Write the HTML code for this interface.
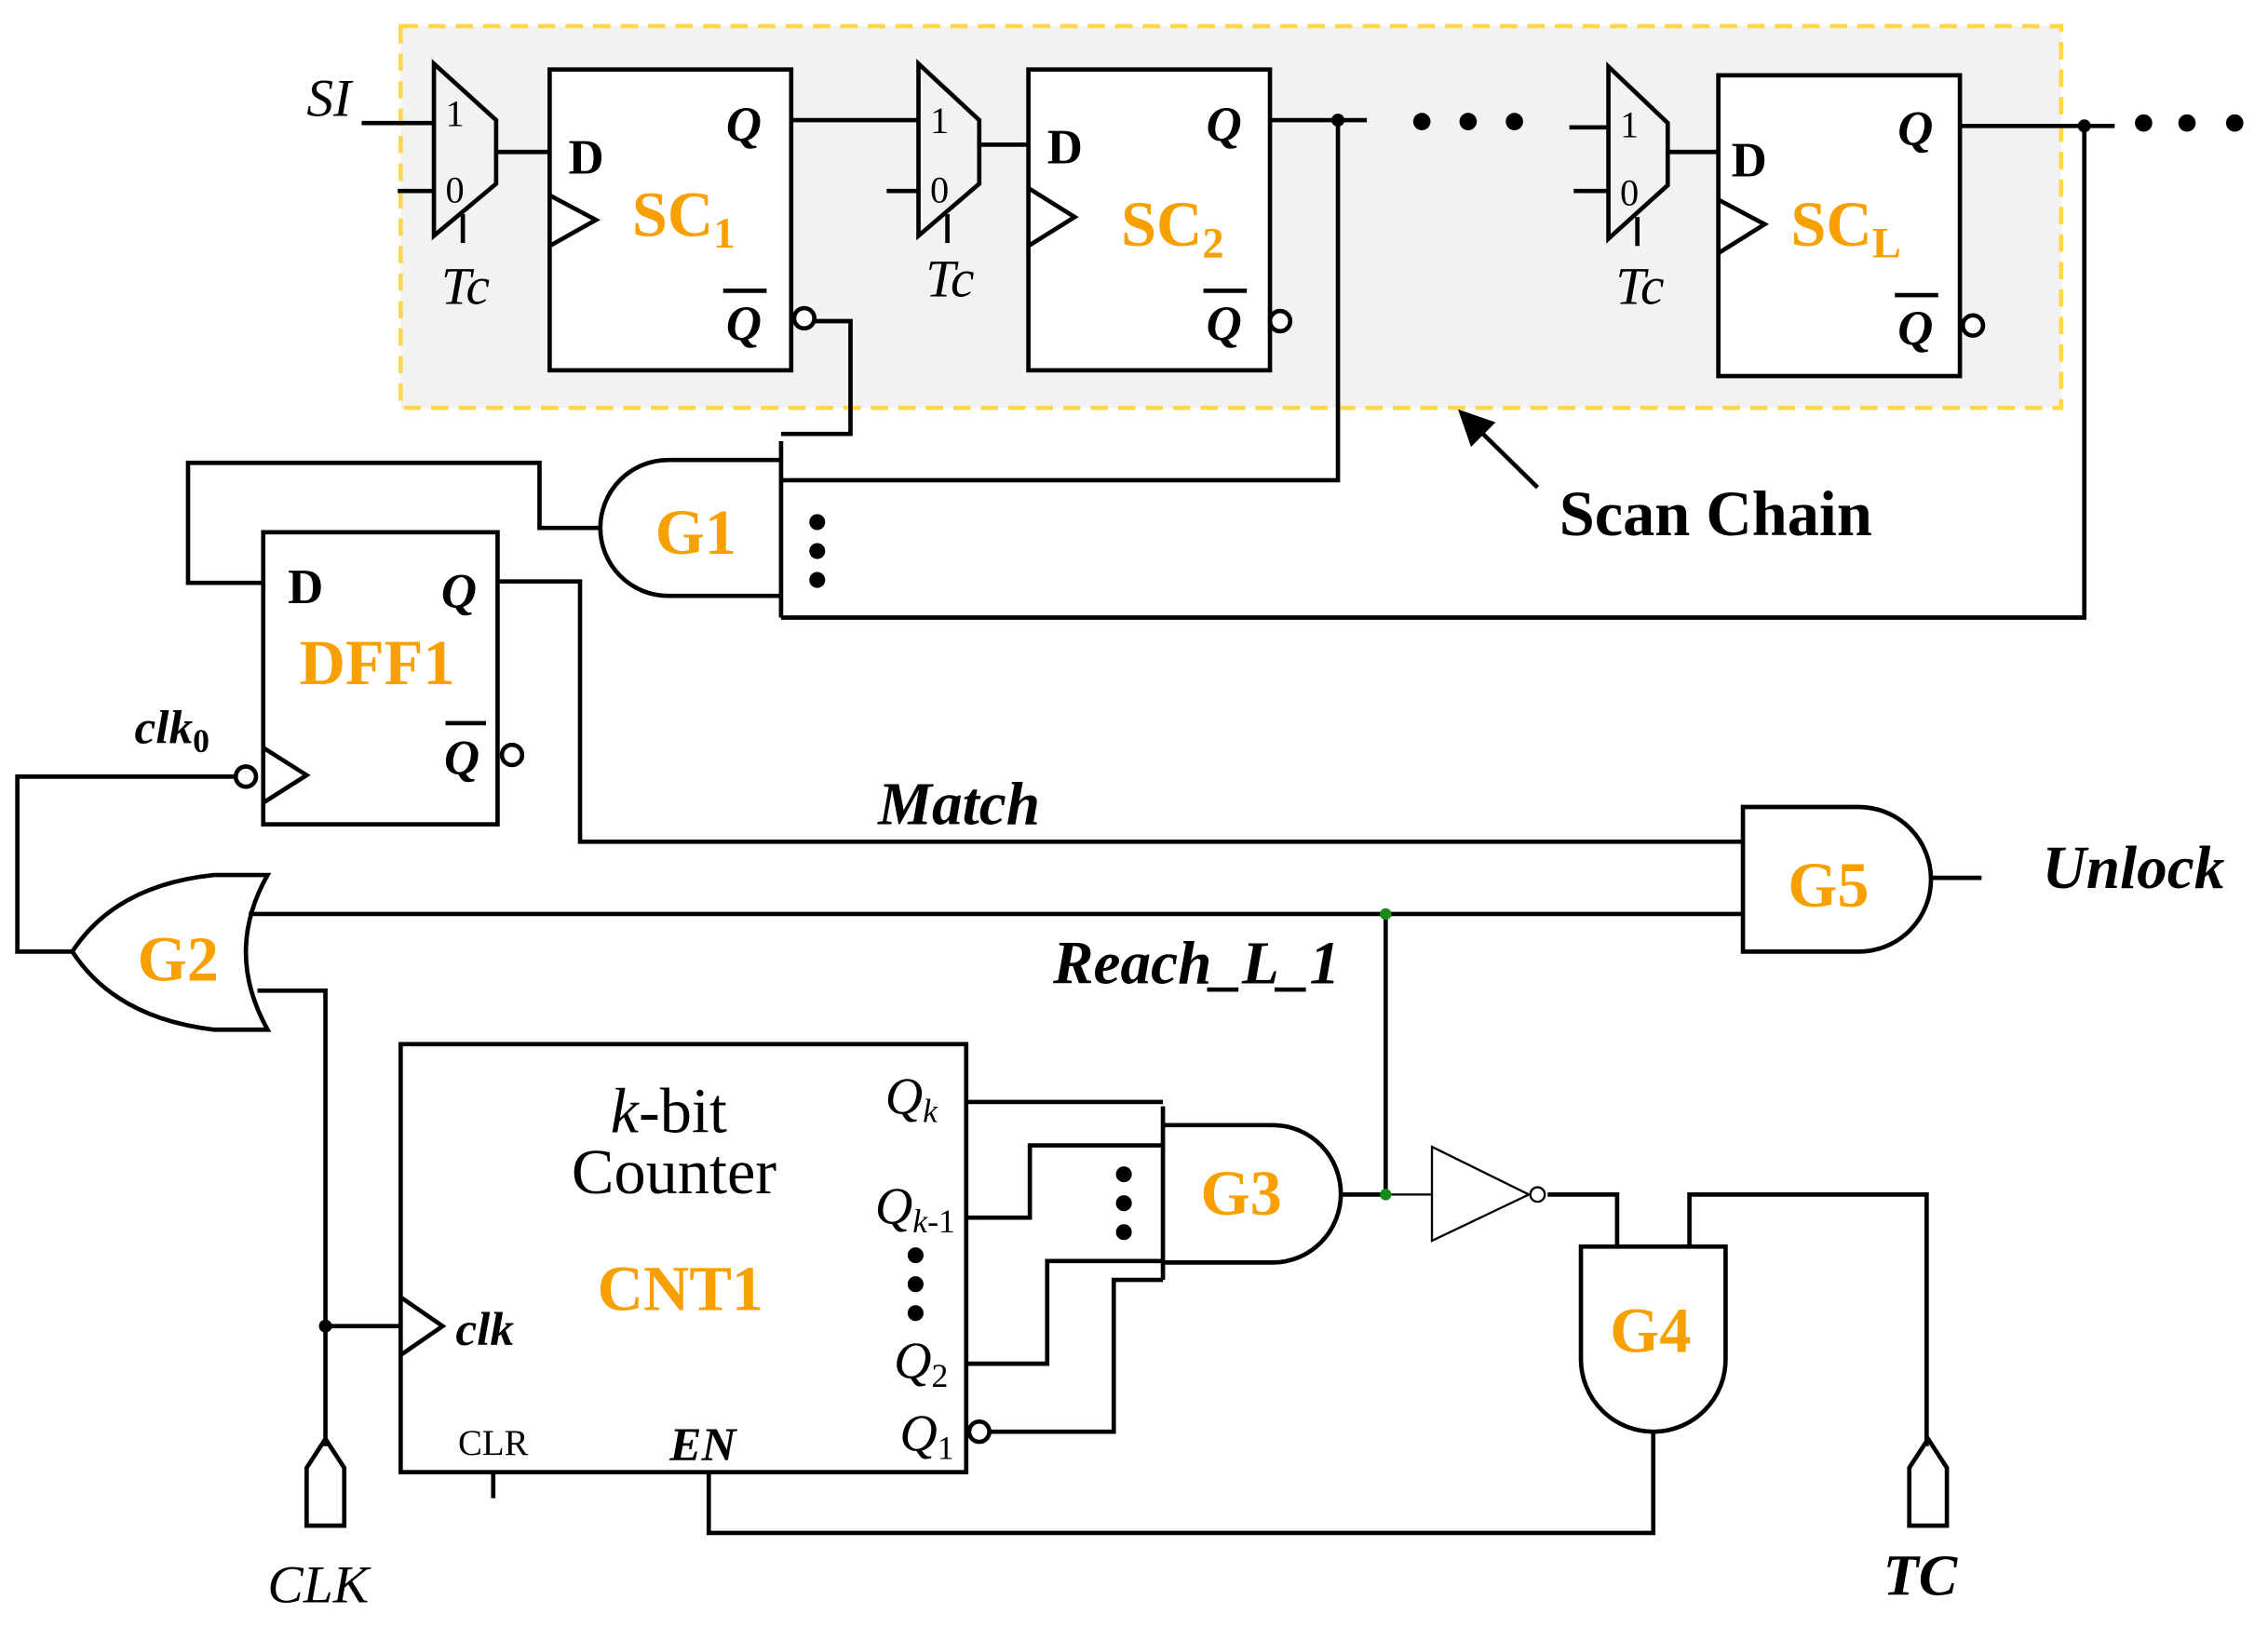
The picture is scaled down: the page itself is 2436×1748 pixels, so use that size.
<!DOCTYPE html>
<html><head><meta charset="utf-8"><style>html,body{margin:0;padding:0;background:#fff}svg{display:block}</style></head>
<body>
<svg width="2436" height="1748" viewBox="0 0 1568 1125" xmlns="http://www.w3.org/2000/svg" font-family="Liberation Serif, serif">
<rect x="277" y="18" width="1148" height="264" fill="#f2f2f2" stroke="#ffd84a" stroke-width="3" stroke-dasharray="12,7"/>
<g fill="none" stroke="#000" stroke-width="3">
<polygon points="300,44 343,83 343,127 300,163"/>
<path d="M250,85H300 M275,132H300 M320,148V168 M343,105H380"/>
<rect x="380" y="48" width="167" height="208" fill="#fff"/>
<path d="M380,135L412,152L380,170"/>
<circle cx="556" cy="220" r="7" fill="#fff"/>
<path d="M547,83H635"/>
<polygon points="635,44 677,83 677,127 635,163"/>
<path d="M613,132H635 M655,148V168 M677,100H711"/>
<rect x="711" y="48" width="167" height="208" fill="#fff"/>
<path d="M711,130L743,150L711,170"/>
<circle cx="885" cy="222" r="7" fill="#fff"/>
<path d="M878,83H945 M925,83V332H540"/>
<polygon points="1112,46 1153,85 1153,128 1112,165"/>
<path d="M1085,88H1112 M1088,132H1112 M1132,150V170 M1153,105H1188"/>
<rect x="1188" y="52" width="167" height="208" fill="#fff"/>
<path d="M1188,138L1220,155L1188,175"/>
<circle cx="1364" cy="225" r="7" fill="#fff"/>
<path d="M1355,87H1462 M1441,87V427H540 M540,305V427"/>
<path d="M563,222H588V300H540"/>
<path d="M540,318H462A47,47 0 0 0 462,412H540"/>
<path d="M415,365H373V320H130V403H182"/>
<rect x="182" y="368" width="162" height="202"/>
<path d="M182,517L212,536L182,555"/>
<circle cx="170" cy="537" r="7"/>
<circle cx="354" cy="522" r="7"/>
<path d="M344,402H401V582H1205"/>
<path d="M1205,558H1285A50,50 0 0 1 1285,658H1205Z"/>
<path d="M1335,607H1370"/>
<path d="M185,605H148Q80,612 50,658Q80,704 148,712H185Q155,658 185,605Z"/>
<path d="M50,658H12V537H163"/>
<path d="M172,632H1205"/>
<path d="M178,685H225V1000 M225,917H277"/>
<path d="M958,632V826"/>
<rect x="277" y="722" width="391" height="296"/>
<path d="M277,897L306,917L277,937"/>
<path d="M341,1018V1036"/>
<circle cx="677" cy="990" r="7"/>
<path d="M668,762H804 M668,842H712V792H804 M668,943H724V872H804 M684,990H770V885H804 M804,765V885"/>
<path d="M804,778H880A47,47.5 0 0 1 880,873H804"/>
<path d="M928,826H958"/>
<path d="M490,1018V1060H1143V990"/>
<path d="M1093,862H1193V940A50,50 0 0 1 1093,940Z"/>
<path d="M1070,826H1118V862 M1168,862V826H1332V1000"/>
<path d="M212,1055V1015L225,995L238,1015V1055Z"/>
<path d="M1320,1055V1015L1333,995L1346,1015V1055Z"/>
</g>
<g fill="none" stroke="#000" stroke-width="1.5">
<path d="M958,826H990"/>
<polygon points="990,793 1057,826 990,858"/>
<circle cx="1063" cy="826" r="5"/>
</g>
<g fill="#000">
<circle cx="925" cy="83" r="4.5"/><circle cx="1441" cy="87" r="4.5"/><circle cx="225" cy="917" r="4.5"/>
<circle cx="983" cy="84" r="6"/><circle cx="1015" cy="84" r="6"/><circle cx="1047" cy="84" r="6"/>
<circle cx="1482" cy="85" r="6"/><circle cx="1512" cy="85" r="6"/><circle cx="1545" cy="85" r="6"/>
<circle cx="565" cy="361" r="5.5"/><circle cx="565" cy="381" r="5.5"/><circle cx="565" cy="401" r="5.5"/>
<circle cx="777" cy="812" r="5.5"/><circle cx="777" cy="832" r="5.5"/><circle cx="777" cy="852" r="5.5"/>
<circle cx="633" cy="868" r="5.5"/><circle cx="633" cy="888" r="5.5"/><circle cx="633" cy="908" r="5.5"/>
<path d="M1063,337L1010,285" stroke="#000" stroke-width="3"/>
<polygon points="1008,283 1034,292 1017,309"/>
</g>
<circle cx="958" cy="632" r="4" fill="#1a8a1a"/><circle cx="958" cy="826" r="4" fill="#1a8a1a"/>
<g font-size="37" font-style="italic">
<text x="212" y="80">SI</text>
<text x="305" y="210">Tc</text><text x="640" y="205">Tc</text><text x="1117" y="210">Tc</text>
<text x="185" y="1108">CLK</text>
<text x="612" y="770" font-size="36">Q<tspan font-size="23" dy="6">k</tspan></text>
<text x="605" y="846" font-size="36">Q<tspan font-size="23" dy="6">k</tspan><tspan font-size="23" font-style="normal">-1</tspan></text>
<text x="618" y="953" font-size="36">Q<tspan font-size="23" dy="6" font-style="normal">2</tspan></text>
<text x="622" y="1003" font-size="36">Q<tspan font-size="23" dy="6" font-style="normal">1</tspan></text>
<text x="422" y="783" font-size="44">k<tspan font-style="normal">-bit</tspan></text>
</g>
<text x="466" y="825" font-size="44" text-anchor="middle">Counter</text>
<text x="341" y="1006" font-size="25" text-anchor="middle">CLR</text>
<g font-size="26">
<text x="308" y="87">1</text><text x="308" y="140">0</text>
<text x="643" y="92">1</text><text x="643" y="140">0</text>
<text x="1120" y="95">1</text><text x="1120" y="142">0</text>
</g>
<g font-weight="bold" font-size="34">
<text x="393" y="120">D</text><text x="724" y="113">D</text><text x="1197" y="122">D</text><text x="199" y="417">D</text>
</g>
<g font-weight="bold" font-style="italic" font-size="34">
<text x="502" y="97">Q</text><text x="502" y="235">Q</text>
<text x="834" y="97">Q</text><text x="834" y="235">Q</text>
<text x="1312" y="100">Q</text><text x="1312" y="238">Q</text>
<text x="305" y="420">Q</text><text x="307" y="535">Q</text>
<text x="607" y="570" font-size="42">Match</text>
<text x="1412" y="614" font-size="42">Unlock</text>
<text x="728" y="680" font-size="42">Reach_L_1</text>
<text x="315" y="930" font-size="33">clk</text>
<text x="463" y="1010" font-size="33">EN</text>
<text x="93" y="514" font-size="33">clk<tspan font-size="23" dy="6" font-style="normal">0</tspan></text>
<text x="1302" y="1103" font-size="40">TC</text>
</g>
<g stroke="#000" stroke-width="3">
<path d="M500,201H530 M832,201H862 M1310,204H1340 M308,500H336"/>
</g>
<text x="1078" y="370" font-size="44" font-weight="bold">Scan Chain</text>
<g fill="#f7a000" font-weight="bold" font-size="44">
<text x="437" y="163">SC<tspan font-size="30" dy="8">1</tspan></text>
<text x="775" y="170">SC<tspan font-size="30" dy="8">2</tspan></text>
<text x="1238" y="170">SC<tspan font-size="30" dy="8">L</tspan></text>
<text x="453" y="383">G1</text>
<text x="207" y="473">DFF1</text>
<text x="1236" y="627">G5</text>
<text x="95" y="678">G2</text>
<text x="413" y="906">CNT1</text>
<text x="830" y="840">G3</text>
<text x="1113" y="935">G4</text>
</g>
</svg>
</body></html>
